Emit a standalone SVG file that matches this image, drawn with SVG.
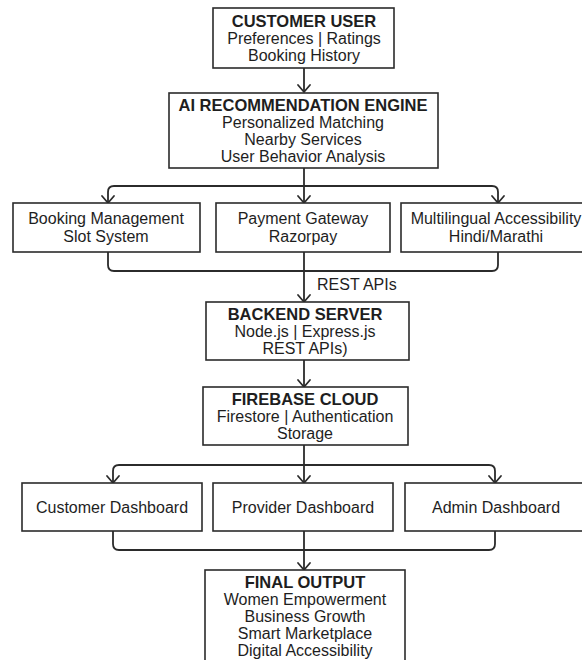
<svg xmlns="http://www.w3.org/2000/svg" width="582" height="660" viewBox="0 0 582 660">
<defs>
<style>
.box{fill:#fff;stroke:#2b2b2b;stroke-width:1.6}
.t{font-family:"Liberation Sans",Arial,sans-serif;font-size:16px;fill:#1e1e1e;text-anchor:middle}
.b{font-weight:bold;font-size:16.5px}
.c{fill:none;stroke:#2b2b2b;stroke-width:1.8;stroke-linejoin:round}
.ah{fill:none;stroke:#2b2b2b;stroke-width:1.8;stroke-linecap:round;stroke-linejoin:round}
</style>
</defs>
<rect width="582" height="660" fill="#fff"/>

<g id="connectors">
<!-- customer -> AI -->
<path class="c" d="M304 68 V92"/>
<path class="ah" d="M298 85 L304 92 L310 85"/>
<!-- AI -> three -->
<path class="c" d="M304 168 V203"/>
<path class="c" d="M108 203 V192 Q108 186 114 186 H492 Q498 186 498 192 V203"/>
<path class="ah" d="M102 196 L108 203 L114 196"/>
<path class="ah" d="M298 196 L304 203 L310 196"/>
<path class="ah" d="M492 196 L498 203 L504 196"/>
<!-- three -> backend -->
<path class="c" d="M108 252 V265 Q108 271 114 271 H492 Q498 271 498 265 V252"/>
<path class="c" d="M304 252 V302"/>
<path class="ah" d="M298 295 L304 302 L310 295"/>
<!-- backend -> firebase -->
<path class="c" d="M304 360 V387"/>
<path class="ah" d="M298 380 L304 387 L310 380"/>
<!-- firebase -> dashboards -->
<path class="c" d="M304 445 V483"/>
<path class="c" d="M113 483 V471 Q113 465 119 465 H489 Q495 465 495 471 V483"/>
<path class="ah" d="M107 476 L113 483 L119 476"/>
<path class="ah" d="M298 476 L304 483 L310 476"/>
<path class="ah" d="M489 476 L495 483 L501 476"/>
<!-- dashboards -> final -->
<path class="c" d="M113 531 V544 Q113 550 119 550 H489 Q495 550 495 544 V531"/>
<path class="c" d="M304 531 V570"/>
<path class="ah" d="M298 563 L304 570 L310 563"/>
<text class="t" x="317" y="290" style="text-anchor:start">REST APIs</text>
</g>

<g id="customer-user">
<rect class="box" x="213" y="8" width="181" height="60"/>
<text class="t b" x="304" y="27">CUSTOMER USER</text>
<text class="t" x="304" y="44">Preferences | Ratings</text>
<text class="t" x="304" y="61">Booking History</text>
</g>

<g id="ai-engine">
<rect class="box" x="169" y="93" width="269" height="75"/>
<text class="t b" x="303" y="111">AI RECOMMENDATION ENGINE</text>
<text class="t" x="303" y="128">Personalized Matching</text>
<text class="t" x="303" y="145">Nearby Services</text>
<text class="t" x="303" y="162">User Behavior Analysis</text>
</g>

<g id="booking">
<rect class="box" x="13" y="203" width="187" height="49"/>
<text class="t" x="106" y="224">Booking Management</text>
<text class="t" x="106" y="242">Slot System</text>
</g>

<g id="payment">
<rect class="box" x="216" y="203" width="174" height="49"/>
<text class="t" x="303" y="224">Payment Gateway</text>
<text class="t" x="303" y="242">Razorpay</text>
</g>

<g id="multilingual">
<rect class="box" x="401" y="203" width="194" height="49"/>
<text class="t" x="496" y="224">Multilingual Accessibility</text>
<text class="t" x="496" y="242">Hindi/Marathi</text>
</g>

<g id="backend">
<rect class="box" x="206" y="302" width="203" height="58"/>
<text class="t b" x="305" y="320">BACKEND SERVER</text>
<text class="t" x="305" y="337">Node.js | Express.js</text>
<text class="t" x="305" y="354">REST APIs)</text>
</g>

<g id="firebase">
<rect class="box" x="203" y="387" width="205" height="58"/>
<text class="t b" x="305" y="405">FIREBASE CLOUD</text>
<text class="t" x="305" y="422">Firestore | Authentication</text>
<text class="t" x="305" y="439">Storage</text>
</g>

<g id="customer-dashboard">
<rect class="box" x="22" y="483" width="180" height="48"/>
<text class="t" x="112" y="513">Customer Dashboard</text>
</g>

<g id="provider-dashboard">
<rect class="box" x="213" y="483" width="180" height="48"/>
<text class="t" x="303" y="513">Provider Dashboard</text>
</g>

<g id="admin-dashboard">
<rect class="box" x="405" y="483" width="182" height="48"/>
<text class="t" x="496" y="513">Admin Dashboard</text>
</g>

<g id="final-output">
<rect class="box" x="205" y="570" width="200" height="100"/>
<text class="t b" x="305" y="588">FINAL OUTPUT</text>
<text class="t" x="305" y="605">Women Empowerment</text>
<text class="t" x="305" y="622">Business Growth</text>
<text class="t" x="305" y="639">Smart Marketplace</text>
<text class="t" x="305" y="656">Digital Accessibility</text>
</g>
</svg>
